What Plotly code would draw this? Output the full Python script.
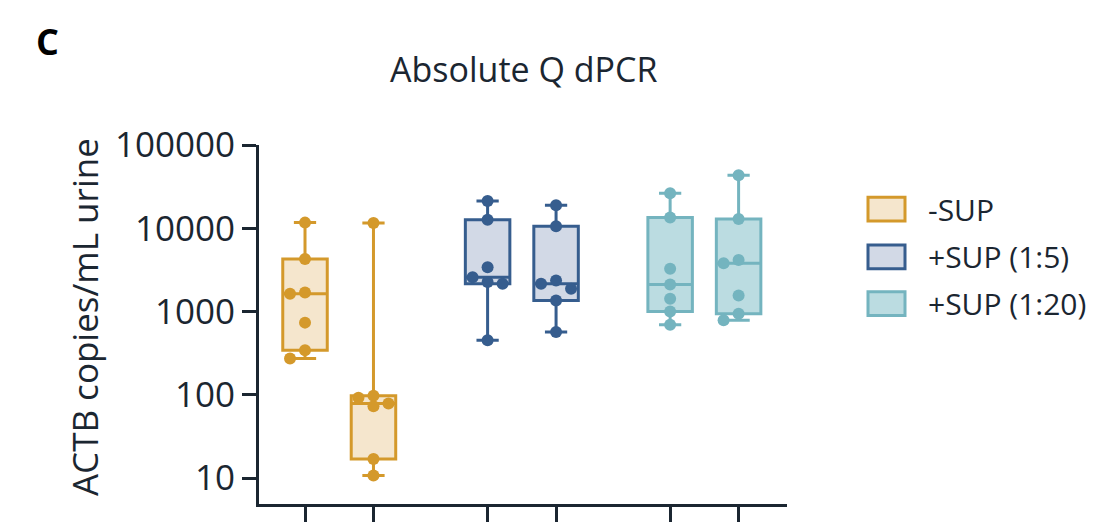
import numpy as np
import plotly.graph_objects as go

# ---------------- data ----------------
group_names = ["-SUP", "+SUP (1:5)", "+SUP (1:20)"]
sup_neg_a = [273, 344, 737, 1640, 1690, 4290, 11700]
sup_neg_b = [10.8, 17.0, 72.9, 78.6, 92.3, 97.4, 11600]
sup5_a = [453, 2155, 2260, 2590, 3410, 12650, 21300]
sup5_b = [570, 1362, 1880, 2155, 2360, 10550, 18960]
sup20_a = [697, 1005, 1426, 2115, 3260, 13520, 26400]
sup20_b = [785, 944, 1563, 3810, 4170, 12900, 43300]
y_tick_values = [10, 100, 1000, 10000, 100000]
y_tick_labels = ["10", "100", "1000", "10000", "100000"]

# ---------------- style / layout ----------------
W, H = 1104, 531
L, R, T, B = 259, 787, 145, 506          # plot area in px
XR = [-0.672, 7.04]
YR = [0.690, 5.0]
x_slots = [0, 1, 2.667, 3.667, 5.333, 6.333]
line_colors = ["#D4992B", "#365D8E", "#74B4BF"]
fill_colors = ["#F5E6CD", "#D2D9E6", "#BBDCE1"]
ink = "#1B2631"
FONT = "Open Sans"

series = [(sup_neg_a, 0), (sup_neg_b, 0), (sup5_a, 1), (sup5_b, 1), (sup20_a, 2), (sup20_b, 2)]

px_per_x = (R - L) / (XR[1] - XR[0])
px_per_dec = (B - T) / (YR[1] - YR[0])


def swarm_offsets(vals, step_px=15.0, thresh_px=10.5):
    vals = np.asarray(vals, float)
    ypx = np.log10(vals) * px_per_dec
    order = np.argsort(vals)[::-1]
    placed = []
    off = np.zeros(len(vals))
    for i in order:
        for k in [0, -1, 1, -2, 2, -3, 3]:
            xp = k * step_px
            if all(np.hypot(xp - a, ypx[i] - b) >= thresh_px for a, b in placed):
                break
        placed.append((xp, ypx[i]))
        off[i] = xp / px_per_x
    return off


fig = go.Figure()
for (vals, g), xs in zip(series, x_slots):
    v = np.asarray(vals, float)
    q1, med, q3 = np.percentile(v, [25, 50, 75], method="weibull")
    fig.add_trace(go.Box(
        x=[xs], q1=[q1], median=[med], q3=[q3],
        lowerfence=[v.min()], upperfence=[v.max()],
        width=0.65, whiskerwidth=0.5,
        line=dict(color=line_colors[g], width=3),
        fillcolor=fill_colors[g], boxpoints=False,
        showlegend=False, hoverinfo="skip",
    ))
for (vals, g), xs in zip(series, x_slots):
    off = swarm_offsets(vals)
    fig.add_trace(go.Scatter(
        x=xs + off, y=vals, mode="markers",
        marker=dict(size=12, color=line_colors[g], line=dict(width=0)),
        showlegend=False, cliponaxis=False, hoverinfo="skip",
    ))


def px_x(p):
    return (p - L) / (R - L)


def px_y(p):
    return (B - p) / (B - T)


annotations = [
    dict(text="C", x=px_x(47), y=px_y(41), xref="paper", yref="paper",
         showarrow=False, xanchor="center", yanchor="middle",
         font=dict(family=FONT, size=36, color="#000000", weight="bold")),
    dict(text="Absolute Q dPCR", x=px_x(523), y=px_y(69), xref="paper", yref="paper",
         showarrow=False, xanchor="center", yanchor="middle",
         font=dict(family=FONT, size=34, color=ink)),
    dict(text="ACTB copies/mL urine", x=px_x(84), y=px_y(318), xref="paper", yref="paper",
         showarrow=False, xanchor="center", yanchor="middle", textangle=-90,
         font=dict(family=FONT, size=35, color=ink)),
]
shapes = []
legend_cy = [209.5, 257.5, 304.5]
for g, name in enumerate(group_names):
    cy = legend_cy[g]
    shapes.append(dict(type="rect", xref="paper", yref="paper",
                       x0=px_x(868), x1=px_x(905), y0=px_y(cy + 12), y1=px_y(cy - 12),
                       line=dict(color=line_colors[g], width=3), fillcolor=fill_colors[g]))
    annotations.append(dict(text=name, x=px_x(926), y=px_y(cy), xref="paper", yref="paper",
                            showarrow=False, xanchor="left", yanchor="middle",
                            font=dict(family=FONT, size=30, color=ink)))

fig.update_layout(
    width=W, height=H,
    margin=dict(l=L, r=W - R, t=T, b=H - B, pad=0),
    paper_bgcolor="white", plot_bgcolor="white",
    showlegend=False,
    annotations=annotations, shapes=shapes,
    font=dict(family=FONT, color=ink),
    xaxis=dict(range=XR, showgrid=False, zeroline=False, showline=True,
               linecolor=ink, linewidth=3, ticks="outside", ticklen=15,
               tickwidth=3, tickcolor=ink, tickmode="array", tickvals=x_slots,
               showticklabels=False),
    yaxis=dict(type="log", range=YR, showgrid=False, zeroline=False, showline=True,
               linecolor=ink, linewidth=3, ticks="outside", ticklen=14,
               tickwidth=3, tickcolor=ink, tickmode="array",
               tickvals=y_tick_values, ticktext=y_tick_labels,
               tickfont=dict(family=FONT, size=35, color=ink)),
)

fig.write_html("out.html", config={"displayModeBar": False},
               post_script="document.body.style.margin='0px';")
